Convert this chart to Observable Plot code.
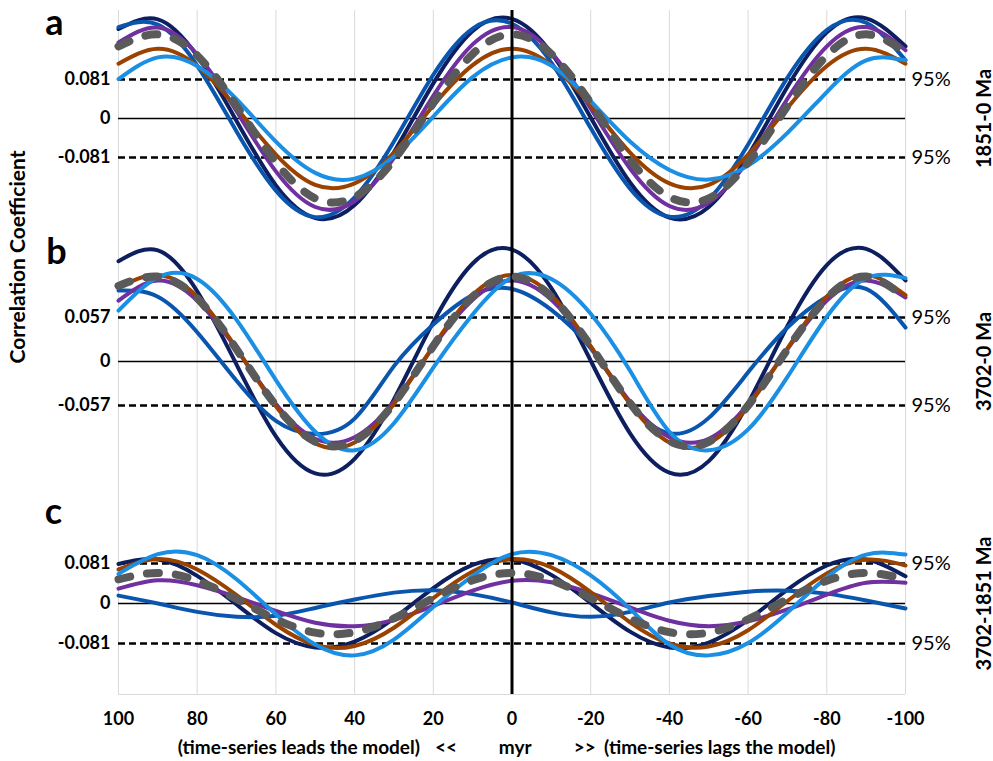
<!DOCTYPE html>
<html><head><meta charset="utf-8">
<script src="https://cdn.jsdelivr.net/npm/d3@7"></script>
<script src="https://cdn.jsdelivr.net/npm/@observablehq/plot@0.6"></script>
<style>
body{margin:0;background:#fff;}
#chart{width:993px;height:761px;font-family:Lato,"Liberation Sans",sans-serif;}
#chart svg{display:block;}
</style></head><body><div id="chart"></div>
<script>
// ---- data ----
const lags = [100,90,80,70,60,50,40,30,20,10,0,-10,-20,-30,-40,-50,-60,-70,-80,-90,-100];
const xTicks = [100,80,60,40,20,0,-20,-40,-60,-80,-100];
const gridLags = [100,80,60,40,20,-20,-40,-60,-80,-100];
const panelLetters = ["a","b","c"];
const panelNames = ["1851-0 Ma","3702-0 Ma","3702-1851 Ma"];
const thresholds = [0.081,0.057,0.081];
const sigLabel = "95%";

const a_navy   = [0.186,0.206,0.130,-0.005,-0.139,-0.207,-0.180,-0.070,0.073,0.182,0.207,0.136,0.002,-0.133,-0.206,-0.184,-0.077,0.066,0.179,0.208,0.150];
const a_blue   = [0.190,0.195,0.110,-0.027,-0.150,-0.205,-0.164,-0.048,0.091,0.187,0.197,0.116,-0.020,-0.146,-0.204,-0.168,-0.054,0.085,0.184,0.199,0.121];
const a_purple = [0.158,0.189,0.133,0.015,-0.110,-0.184,-0.172,-0.082,0.047,0.154,0.190,0.137,0.021,-0.104,-0.182,-0.175,-0.087,0.041,0.150,0.190,0.142];
const a_brown  = [0.114,0.145,0.109,0.022,-0.075,-0.138,-0.135,-0.071,0.027,0.111,0.145,0.111,0.027,-0.071,-0.135,-0.138,-0.075,0.022,0.109,0.145,0.114];
const a_light  = [0.082,0.127,0.109,0.040,-0.048,-0.113,-0.125,-0.079,0.004,0.086,0.127,0.110,0.036,-0.048,-0.107,-0.127,-0.098,-0.030,0.055,0.121,0.121];
const a_mean   = [0.150,0.175,0.131,0.026,-0.091,-0.166,-0.163,-0.086,0.032,0.134,0.175,0.134,0.032,-0.086,-0.163,-0.166,-0.091,0.026,0.131,0.175,0.138];

const b_navy   = [0.130,0.144,0.091,-0.004,-0.097,-0.145,-0.126,-0.049,0.051,0.127,0.145,0.095,0.001,-0.093,-0.144,-0.129,-0.054,0.046,0.125,0.146,0.105];
const b_blue   = [0.092,0.084,0.038,-0.025,-0.077,-0.094,-0.074,-0.006,0.048,0.086,0.094,0.067,0.017,-0.054,-0.093,-0.073,-0.014,0.044,0.084,0.094,0.044];
const b_purple = [0.079,0.105,0.079,0.016,-0.055,-0.100,-0.098,-0.052,0.019,0.080,0.105,0.080,0.019,-0.052,-0.098,-0.100,-0.055,0.016,0.079,0.105,0.083];
const b_brown  = [0.096,0.112,0.084,0.017,-0.058,-0.106,-0.105,-0.055,0.020,0.086,0.112,0.086,0.020,-0.055,-0.105,-0.106,-0.058,0.017,0.084,0.112,0.086];
const b_light  = [0.066,0.109,0.107,0.054,-0.024,-0.091,-0.115,-0.080,-0.008,0.061,0.109,0.107,0.062,-0.012,-0.091,-0.115,-0.088,-0.020,0.058,0.108,0.108];
const b_mean   = [0.098,0.110,0.082,0.016,-0.057,-0.104,-0.103,-0.054,0.020,0.084,0.110,0.084,0.020,-0.054,-0.103,-0.104,-0.057,0.016,0.082,0.110,0.082];

const c_navy   = [0.080,0.089,0.056,-0.002,-0.060,-0.089,-0.077,-0.030,0.031,0.078,0.089,0.058,0.001,-0.057,-0.089,-0.079,-0.033,0.028,0.077,0.089,0.055];
const c_blue   = [0.016,0.000,-0.017,-0.027,-0.025,-0.009,0.008,0.022,0.027,0.019,0.002,-0.018,-0.027,-0.017,0.002,0.015,0.024,0.026,0.020,0.006,-0.010];
const c_purple = [0.030,0.047,0.037,0.013,-0.015,-0.039,-0.046,-0.033,-0.005,0.026,0.046,0.043,0.021,-0.008,-0.035,-0.046,-0.036,-0.012,0.018,0.042,0.042];
const c_brown  = [0.069,0.090,0.069,0.017,-0.043,-0.084,-0.086,-0.049,0.011,0.065,0.090,0.073,0.023,-0.038,-0.081,-0.087,-0.054,0.005,0.061,0.089,0.077];
const c_light  = [0.060,0.100,0.098,0.049,-0.022,-0.083,-0.105,-0.073,-0.007,0.056,0.100,0.098,0.057,-0.011,-0.083,-0.105,-0.080,-0.018,0.053,0.099,0.099];
const c_mean   = [0.049,0.062,0.046,0.009,-0.032,-0.059,-0.058,-0.030,0.011,0.047,0.062,0.047,0.011,-0.030,-0.058,-0.059,-0.032,0.009,0.046,0.062,0.049];

// ---- styling / layout ----
const colors = {navy:"#0d1f5f", blue:"#0a56ae", purple:"#7030a0", brown:"#9a4200", light:"#1a8fe3", mean:"#5a5a5a"};
const panelSeries = [
  {navy:a_navy, blue:a_blue, purple:a_purple, brown:a_brown, light:a_light, mean:a_mean},
  {navy:b_navy, blue:b_blue, purple:b_purple, brown:b_brown, light:b_light, mean:b_mean},
  {navy:c_navy, blue:c_blue, purple:c_purple, brown:c_brown, light:c_light, mean:c_mean}
];
const layout = [
  {height:226, mt:10, mb:0, dom:[-0.2245,0.2245], letterDy:13, letterDx:-64},
  {height:262, mt:0, mb:0, dom:[-0.1645,0.1749], letterDy:26, letterDx:-62},
  {height:273, mt:0, mb:67, dom:[-0.1842,0.2328], letterDy:24, letterDx:-65}
];
const FONT = "Lato, 'Liberation Sans', sans-serif";

function buildPanel(i){
  const L = layout[i], t = thresholds[i], S = panelSeries[i];
  const rows = k => S[k].map((v,j)=>({lag:lags[j], r:v}));
  const marks = [
    Plot.ruleX(gridLags, {stroke:"#d9d9d9", strokeWidth:1}),
    Plot.ruleY([t,-t], {stroke:"#000", strokeWidth:2.5, strokeDasharray:"7,4"}),
    Plot.ruleY([0], {stroke:"#000", strokeWidth:1.5}),
  ];
  ["navy","blue","purple","brown","light"].forEach(k=>{
    marks.push(Plot.line(rows(k), {x:"lag", y:"r", stroke:colors[k], strokeWidth:4, curve:"natural"}));
  });
  marks.push(Plot.ruleX([0], {stroke:"#000", strokeWidth:3}));
  marks.push(Plot.line(rows("mean"), {x:"lag", y:"r", stroke:colors.mean, strokeWidth:8, strokeDasharray:"12,17", strokeLinecap:"round", curve:"natural"}));
  marks.push(Plot.axisY([-t,0,t], {tickSize:0, tickPadding:8, fontSize:18, fontWeight:"bold", label:null, tickFormat:d=> d===0 ? "0" : d.toFixed(3)}));
  marks.push(Plot.text([t,-t], {x:()=>-100, y:d=>d, text:()=>sigLabel, dx:6, textAnchor:"start", fontSize:20}));
  marks.push(Plot.text([panelNames[i]], {x:()=>-100, y:()=>0, dx:79, rotate:-90, fontWeight:"bold", fontSize:20}));
  marks.push(Plot.text([panelLetters[i]], {frameAnchor:"top-left", dx:L.letterDx, dy:L.letterDy, fontSize:36, fontWeight:"bold", textAnchor:"middle", lineAnchor:"middle"}));
  if(i===1){
    marks.push(Plot.text(["Correlation Coefficient"], {frameAnchor:"left", dx:-100, dy:6, rotate:-90, fontWeight:"bold", fontSize:21}));
  }
  if(i===2){
    marks.push(Plot.ruleY([L.dom[0]], {stroke:"#d9d9d9", strokeWidth:1}));
    marks.push(Plot.axisX(xTicks, {tickSize:0, tickPadding:18, fontSize:18, fontWeight:"bold", label:null, tickFormat:d=>String(d)}));
    const xl = {frameAnchor:"bottom", dy:53, fontSize:19, fontWeight:"bold", lineAnchor:"middle"};
    marks.push(Plot.text(["(time-series leads the model)"], {...xl, x:()=>23.4, textAnchor:"end"}));
    marks.push(Plot.text(["<<"], {...xl, x:()=>16.8}));
    marks.push(Plot.text(["myr"], {...xl, x:()=>-0.8}));
    marks.push(Plot.text([">>"], {...xl, x:()=>-18.5}));
    marks.push(Plot.text(["(time-series lags the model)"], {...xl, x:()=>-23.4, textAnchor:"start"}));
  }
  return Plot.plot({
    width:993, height:L.height,
    marginLeft:118, marginRight:88, marginTop:L.mt, marginBottom:L.mb,
    x:{domain:[100,-100], axis:null},
    y:{domain:L.dom, axis:null},
    style:{fontFamily:FONT, background:"white", color:"#000", overflow:"visible"},
    marks
  });
}
const root = document.getElementById("chart");
[0,1,2].forEach(i=>root.appendChild(buildPanel(i)));
</script></body></html>
